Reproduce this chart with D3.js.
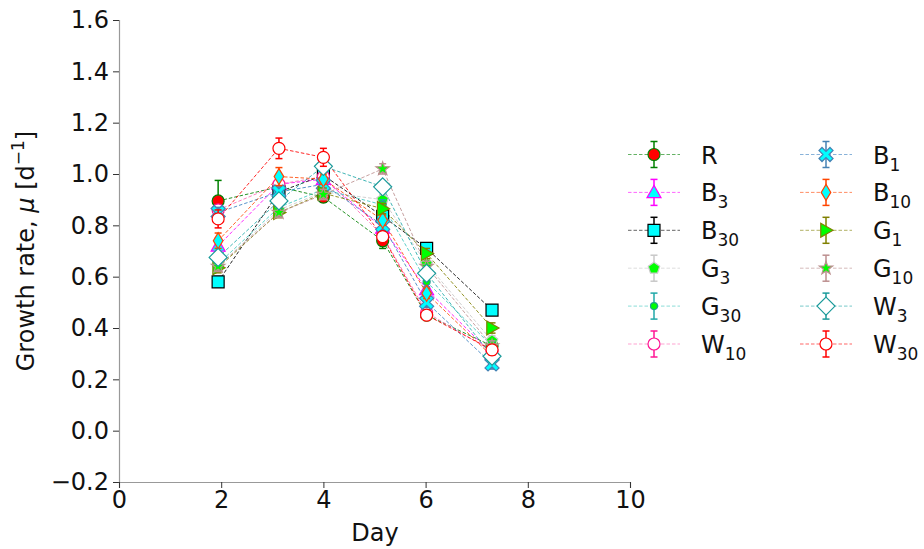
<!DOCTYPE html>
<html><head><meta charset="utf-8">
<script src="https://cdn.jsdelivr.net/npm/d3@7"></script>
<style>body{margin:0;background:#fff;} svg{display:block;font-family:"DejaVu Sans",sans-serif;}</style>
</head><body>
<svg id="c" width="924" height="549"></svg>
<script>
const days = [1.94, 3.13, 4.0, 5.16, 6.02, 7.3];
const seriesNames = ["R","B3","B30","G3","G30","W10","B1","B10","G1","G10","W3","W30"];
const R   = [0.895, 0.95, 0.91, 0.74, 0.45, 0.33];
const B3  = [0.72, 0.96, 0.98, 0.79, 0.55, 0.30];
const B30 = [0.58, 0.93, 0.995, 0.835, 0.71, 0.47];
const G3  = [0.64, 0.86, 0.93, 0.90, 0.65, 0.35];
const G30 = [0.65, 0.87, 0.94, 0.88, 0.58, 0.33];
const W10 = [0.86, 0.96, 0.99, 0.76, 0.46, 0.31];
const B1  = [0.85, 0.93, 0.96, 0.80, 0.50, 0.26];
const B10 = [0.74, 0.99, 0.98, 0.82, 0.535, 0.29];
const G1  = [0.635, 0.85, 0.925, 0.865, 0.69, 0.40];
const G10 = [0.64, 0.85, 0.92, 1.02, 0.64, 0.33];
const W3  = [0.675, 0.895, 1.03, 0.95, 0.613, 0.29];
const W30 = [0.825, 1.10, 1.065, 0.756, 0.45, 0.315];
const errR   = [0.08, 0.03, 0.02, 0.03, 0.02, 0.02];
const errB3  = [0.03, 0.03, 0.02, 0.03, 0.03, 0.02];
const errB30 = [0.02, 0.03, 0.02, 0.03, 0.02, 0.02];
const errG3  = [0.02, 0.02, 0.02, 0.02, 0.02, 0.02];
const errG30 = [0.02, 0.02, 0.02, 0.02, 0.02, 0.02];
const errW10 = [0.02, 0.02, 0.02, 0.02, 0.02, 0.02];
const errB1  = [0.02, 0.02, 0.02, 0.02, 0.02, 0.02];
const errB10 = [0.03, 0.035, 0.02, 0.02, 0.02, 0.02];
const errG1  = [0.02, 0.02, 0.02, 0.02, 0.02, 0.02];
const errG10 = [0.02, 0.02, 0.02, 0.02, 0.02, 0.02];
const errW3  = [0.02, 0.02, 0.02, 0.02, 0.02, 0.02];
const errW30 = [0.035, 0.04, 0.035, 0.02, 0.02, 0.02];
const xTicks = [0, 2, 4, 6, 8, 10];
const yTicks = [-0.2, 0, 0.2, 0.4, 0.6, 0.8, 1.0, 1.2, 1.4, 1.6];

const values = [R,B3,B30,G3,G30,W10,B1,B10,G1,G10,W3,W30];
const errs = [errR,errB3,errB30,errG3,errG30,errW10,errB1,errB10,errG1,errG10,errW3,errW30];
const styles = [
  {line:"#008000", shape:"circle", face:"#ff0000", edge:"#008000", err:"#008000", size:6},
  {line:"#ff00ff", shape:"triUp", face:"#00ffff", edge:"#ff00ff", err:"#ff00ff", size:7},
  {line:"#000000", shape:"square", face:"#00ffff", edge:"#000000", err:"#000000", size:6},
  {line:"#c8c8c8", shape:"pentagon", face:"#00ff00", edge:"#c8c8c8", err:"#c8c8c8", size:6},
  {line:"#40c8c0", shape:"point", face:"#00ff00", edge:"#20a090", err:"#20a8a8", size:3.5},
  {line:"#ff69b4", shape:"circle", face:"#ffffff", edge:"#ff1493", err:"#ff1493", size:6},
  {line:"#3a80c0", shape:"X", face:"#00ffff", edge:"#4682b4", err:"#4682b4", size:6.5},
  {line:"#ff4500", shape:"thinDiamond", face:"#00ffff", edge:"#ff4500", err:"#ff4500", size:8},
  {line:"#808000", shape:"triRight", face:"#00ff00", edge:"#808000", err:"#808000", size:7},
  {line:"#bc8f8f", shape:"star", face:"#00ff00", edge:"#bc8f8f", err:"#bc8f8f", size:7},
  {line:"#20a8a8", shape:"diamond", face:"#ffffff", edge:"#1a9a9a", err:"#1a9a9a", size:9},
  {line:"#ff0000", shape:"circle", face:"#ffffff", edge:"#ff0000", err:"#ff0000", size:6}
];

function shapePath(shape, r){
  const poly = pts => "M" + pts.map(p=>p[0].toFixed(2)+","+p[1].toFixed(2)).join("L") + "Z";
  switch(shape){
    case "circle": case "point":
      return `M${r},0A${r},${r} 0 1,1 ${-r},0A${r},${r} 0 1,1 ${r},0Z`;
    case "square": return poly([[-r,-r],[r,-r],[r,r],[-r,r]]);
    case "triUp": return poly([[0,-r],[r,r*0.75],[-r,r*0.75]]);
    case "triRight": return poly([[r,0],[-r*0.75,-r],[-r*0.75,r]]);
    case "diamond": return poly([[0,-r],[r,0],[0,r],[-r,0]]);
    case "thinDiamond": return poly([[0,-r],[r*0.6,0],[0,r],[-r*0.6,0]]);
    case "pentagon": {
      const p=[]; for(let i=0;i<5;i++){const a=-Math.PI/2+i*2*Math.PI/5; p.push([r*Math.cos(a), r*Math.sin(a)]);} return poly(p);
    }
    case "star": {
      const p=[]; for(let i=0;i<10;i++){const a=-Math.PI/2+i*Math.PI/5; const rr = i%2? r*0.4 : r; p.push([rr*Math.cos(a), rr*Math.sin(a)]);} return poly(p);
    }
    case "X": {
      const w=r*0.33, L=r*1.2;
      const plus=[[-w,-L],[w,-L],[w,-w],[L,-w],[L,w],[w,w],[w,L],[-w,L],[-w,w],[-L,w],[-L,-w],[-w,-w]];
      const c=Math.SQRT1_2;
      return poly(plus.map(([a,b])=>[c*(a-b), c*(a+b)]));
    }
  }
}

const svg = d3.select("#c");
const x = d3.scaleLinear().domain([0,10]).range([119,630]);
const y = d3.scaleLinear().domain([-0.2,1.6]).range([482,20]);
const FS = 24;

const fmt = d => d3.format(".1f")(d).replace("-","\u2212");
const gy = svg.append("g").attr("transform","translate(119,0)")
  .call(d3.axisLeft(y).tickValues(yTicks).tickFormat(fmt).tickSize(6).tickPadding(4));
const gx = svg.append("g").attr("transform","translate(0,482)")
  .call(d3.axisBottom(x).tickValues(xTicks).tickFormat(d3.format("d")).tickSize(6).tickPadding(3));
[gx,gy].forEach(g=>{
  g.select(".domain").attr("stroke","#999").attr("stroke-width",1.2);
  g.selectAll(".tick line").attr("stroke","#333").attr("stroke-width",1);
  g.selectAll("text").attr("font-size",FS).attr("fill","#111").attr("font-family","DejaVu Sans");
});

svg.append("text").attr("x",375).attr("y",541).attr("text-anchor","middle")
  .attr("font-size",FS).attr("fill","#111").text("Day");
const yl = svg.append("text").attr("transform","translate(34,251) rotate(-90)")
  .attr("text-anchor","middle").attr("font-size",FS).attr("fill","#111");
yl.append("tspan").text("Growth rate, ");
yl.append("tspan").attr("font-style","italic").text("\u03bc");
yl.append("tspan").text(" [d");
yl.append("tspan").attr("dy",-10).attr("font-size",17).text("\u22121");
yl.append("tspan").attr("dy",10).text("]");

const plot = svg.append("g");
values.forEach((vals,i)=>{
  const st = styles[i];
  const pts = days.map((d,j)=>({d, v:vals[j], e:errs[i][j]}));
  plot.append("path").datum(pts)
    .attr("d", d3.line().x(p=>x(p.d)).y(p=>y(p.v)))
    .attr("fill","none").attr("stroke",st.line).attr("stroke-width",1)
    .attr("stroke-dasharray","3.5,2").attr("opacity",0.85);
});
values.forEach((vals,i)=>{
  const st = styles[i];
  const pts = days.map((d,j)=>({d, v:vals[j], e:errs[i][j]}));
  const g = plot.append("g");
  const eb = g.selectAll(".eb").data(pts).enter().append("g").attr("stroke",st.err).attr("stroke-width",1.5);
  eb.append("line").attr("x1",p=>x(p.d)).attr("x2",p=>x(p.d)).attr("y1",p=>y(p.v-p.e)).attr("y2",p=>y(p.v+p.e));
  eb.append("line").attr("x1",p=>x(p.d)-3.5).attr("x2",p=>x(p.d)+3.5).attr("y1",p=>y(p.v+p.e)).attr("y2",p=>y(p.v+p.e));
  eb.append("line").attr("x1",p=>x(p.d)-3.5).attr("x2",p=>x(p.d)+3.5).attr("y1",p=>y(p.v-p.e)).attr("y2",p=>y(p.v-p.e));
  g.selectAll(".m").data(pts).enter().append("path")
    .attr("transform",p=>`translate(${x(p.d)},${y(p.v)})`)
    .attr("d",shapePath(st.shape, st.size))
    .attr("fill",st.face).attr("stroke",st.edge).attr("stroke-width",1.2);
});

const leg = svg.append("g");
const labels = [["R",""],["B","3"],["B","30"],["G","3"],["G","30"],["W","10"],["B","1"],["B","10"],["G","1"],["G","10"],["W","3"],["W","30"]];
seriesNames.forEach((nm,i)=>{
  const col = Math.floor(i/6), row = i%6;
  const mx = col===0 ? 654 : 826;
  const yy = 154.5 + row*37.9;
  const st = styles[i];
  const g = leg.append("g");
  g.append("line").attr("x1",mx-26).attr("x2",mx+26).attr("y1",yy).attr("y2",yy)
    .attr("stroke",st.line).attr("stroke-width",1).attr("stroke-dasharray","3.5,2").attr("opacity",0.6);
  g.append("line").attr("x1",mx).attr("x2",mx).attr("y1",yy-13).attr("y2",yy+13).attr("stroke",st.err).attr("stroke-width",1.5);
  g.append("line").attr("x1",mx-3.5).attr("x2",mx+3.5).attr("y1",yy-13).attr("y2",yy-13).attr("stroke",st.err).attr("stroke-width",1.5);
  g.append("line").attr("x1",mx-3.5).attr("x2",mx+3.5).attr("y1",yy+13).attr("y2",yy+13).attr("stroke",st.err).attr("stroke-width",1.5);
  g.append("path").attr("transform",`translate(${mx},${yy})`).attr("d",shapePath(st.shape, st.size))
    .attr("fill",st.face).attr("stroke",st.edge).attr("stroke-width",1.2);
  const t = g.append("text").attr("x",mx+47).attr("y",yy+9).attr("font-size",FS).attr("fill","#111");
  t.append("tspan").text(labels[i][0]);
  if(labels[i][1]) t.append("tspan").attr("dy",7).attr("font-size",17).text(labels[i][1]);
});
</script>
</body></html>
